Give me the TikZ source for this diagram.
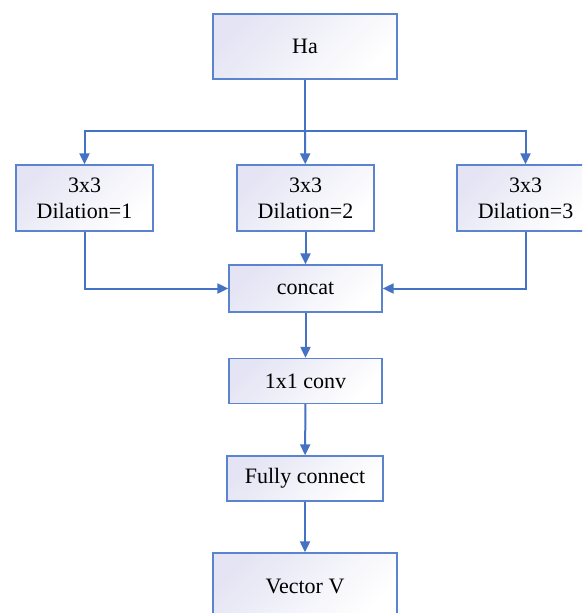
\documentclass[tikz,border=0pt]{standalone}
\usepackage{fontspec}
\setmainfont{Liberation Serif}
\newfontfamily\boxfont{Liberation Serif}
\usetikzlibrary{arrows.meta}
\definecolor{lineblue}{HTML}{4472C4}
\definecolor{boxblue}{HTML}{5A84CE}
\definecolor{lav}{HTML}{E4E4F4}
\tikzset{
  box/.style={draw=boxblue, line width=1.3pt, top color=lav, bottom color=white, shading angle=45,
    inner sep=0pt, align=center, font=\boxfont\fontsize{22}{26}\selectfont},
  conn/.style={draw=lineblue, line width=2pt},
  arr/.style={conn, -{Triangle[length=11pt,width=10pt]}}
}
\begin{document}
\begin{tikzpicture}[x=1pt,y=-1pt]
\clip (0,0) rectangle (582,613);
\fill[white] (0,0) rectangle (582,613);
\node[box, minimum width=184pt, minimum height=65pt] (ha) at (305,46.5) {Ha};
\node[box, minimum width=137pt, minimum height=66pt] (b1) at (84.5,198) {3x3\\Dilation=1};
\node[box, minimum width=137pt, minimum height=66pt] (b2) at (305.5,198) {3x3\\Dilation=2};
\node[box, minimum width=137pt, minimum height=66pt] (b3) at (525.5,198) {3x3\\Dilation=3};
\node[box, minimum width=153pt, minimum height=47pt] (cat) at (305.5,288.5) {concat};
\node[box, minimum width=153pt, minimum height=45pt] (conv) at (305.5,381) {1x1 conv};
\node[box, minimum width=156pt, minimum height=45pt] (fc) at (305,478.5) {Fully connect};
\node[box, minimum width=184pt, minimum height=66pt] (vec) at (305,586) {Vector V};
\coordinate (split) at (305,131);
\draw[conn] (ha) -- (split);
\draw[arr] (split) -| (b1);
\draw[arr] (split) -- (b2);
\draw[arr] (split) -| (b3);
\draw[arr] (b1) |- (cat);
\draw[arr] (b2) -- (cat);
\draw[arr] (b3) |- (cat);
\draw[arr] (cat) -- (conv);
\draw[arr] (conv) -- (fc);
\draw[arr] (fc) -- (vec);
\end{tikzpicture}
\end{document}
